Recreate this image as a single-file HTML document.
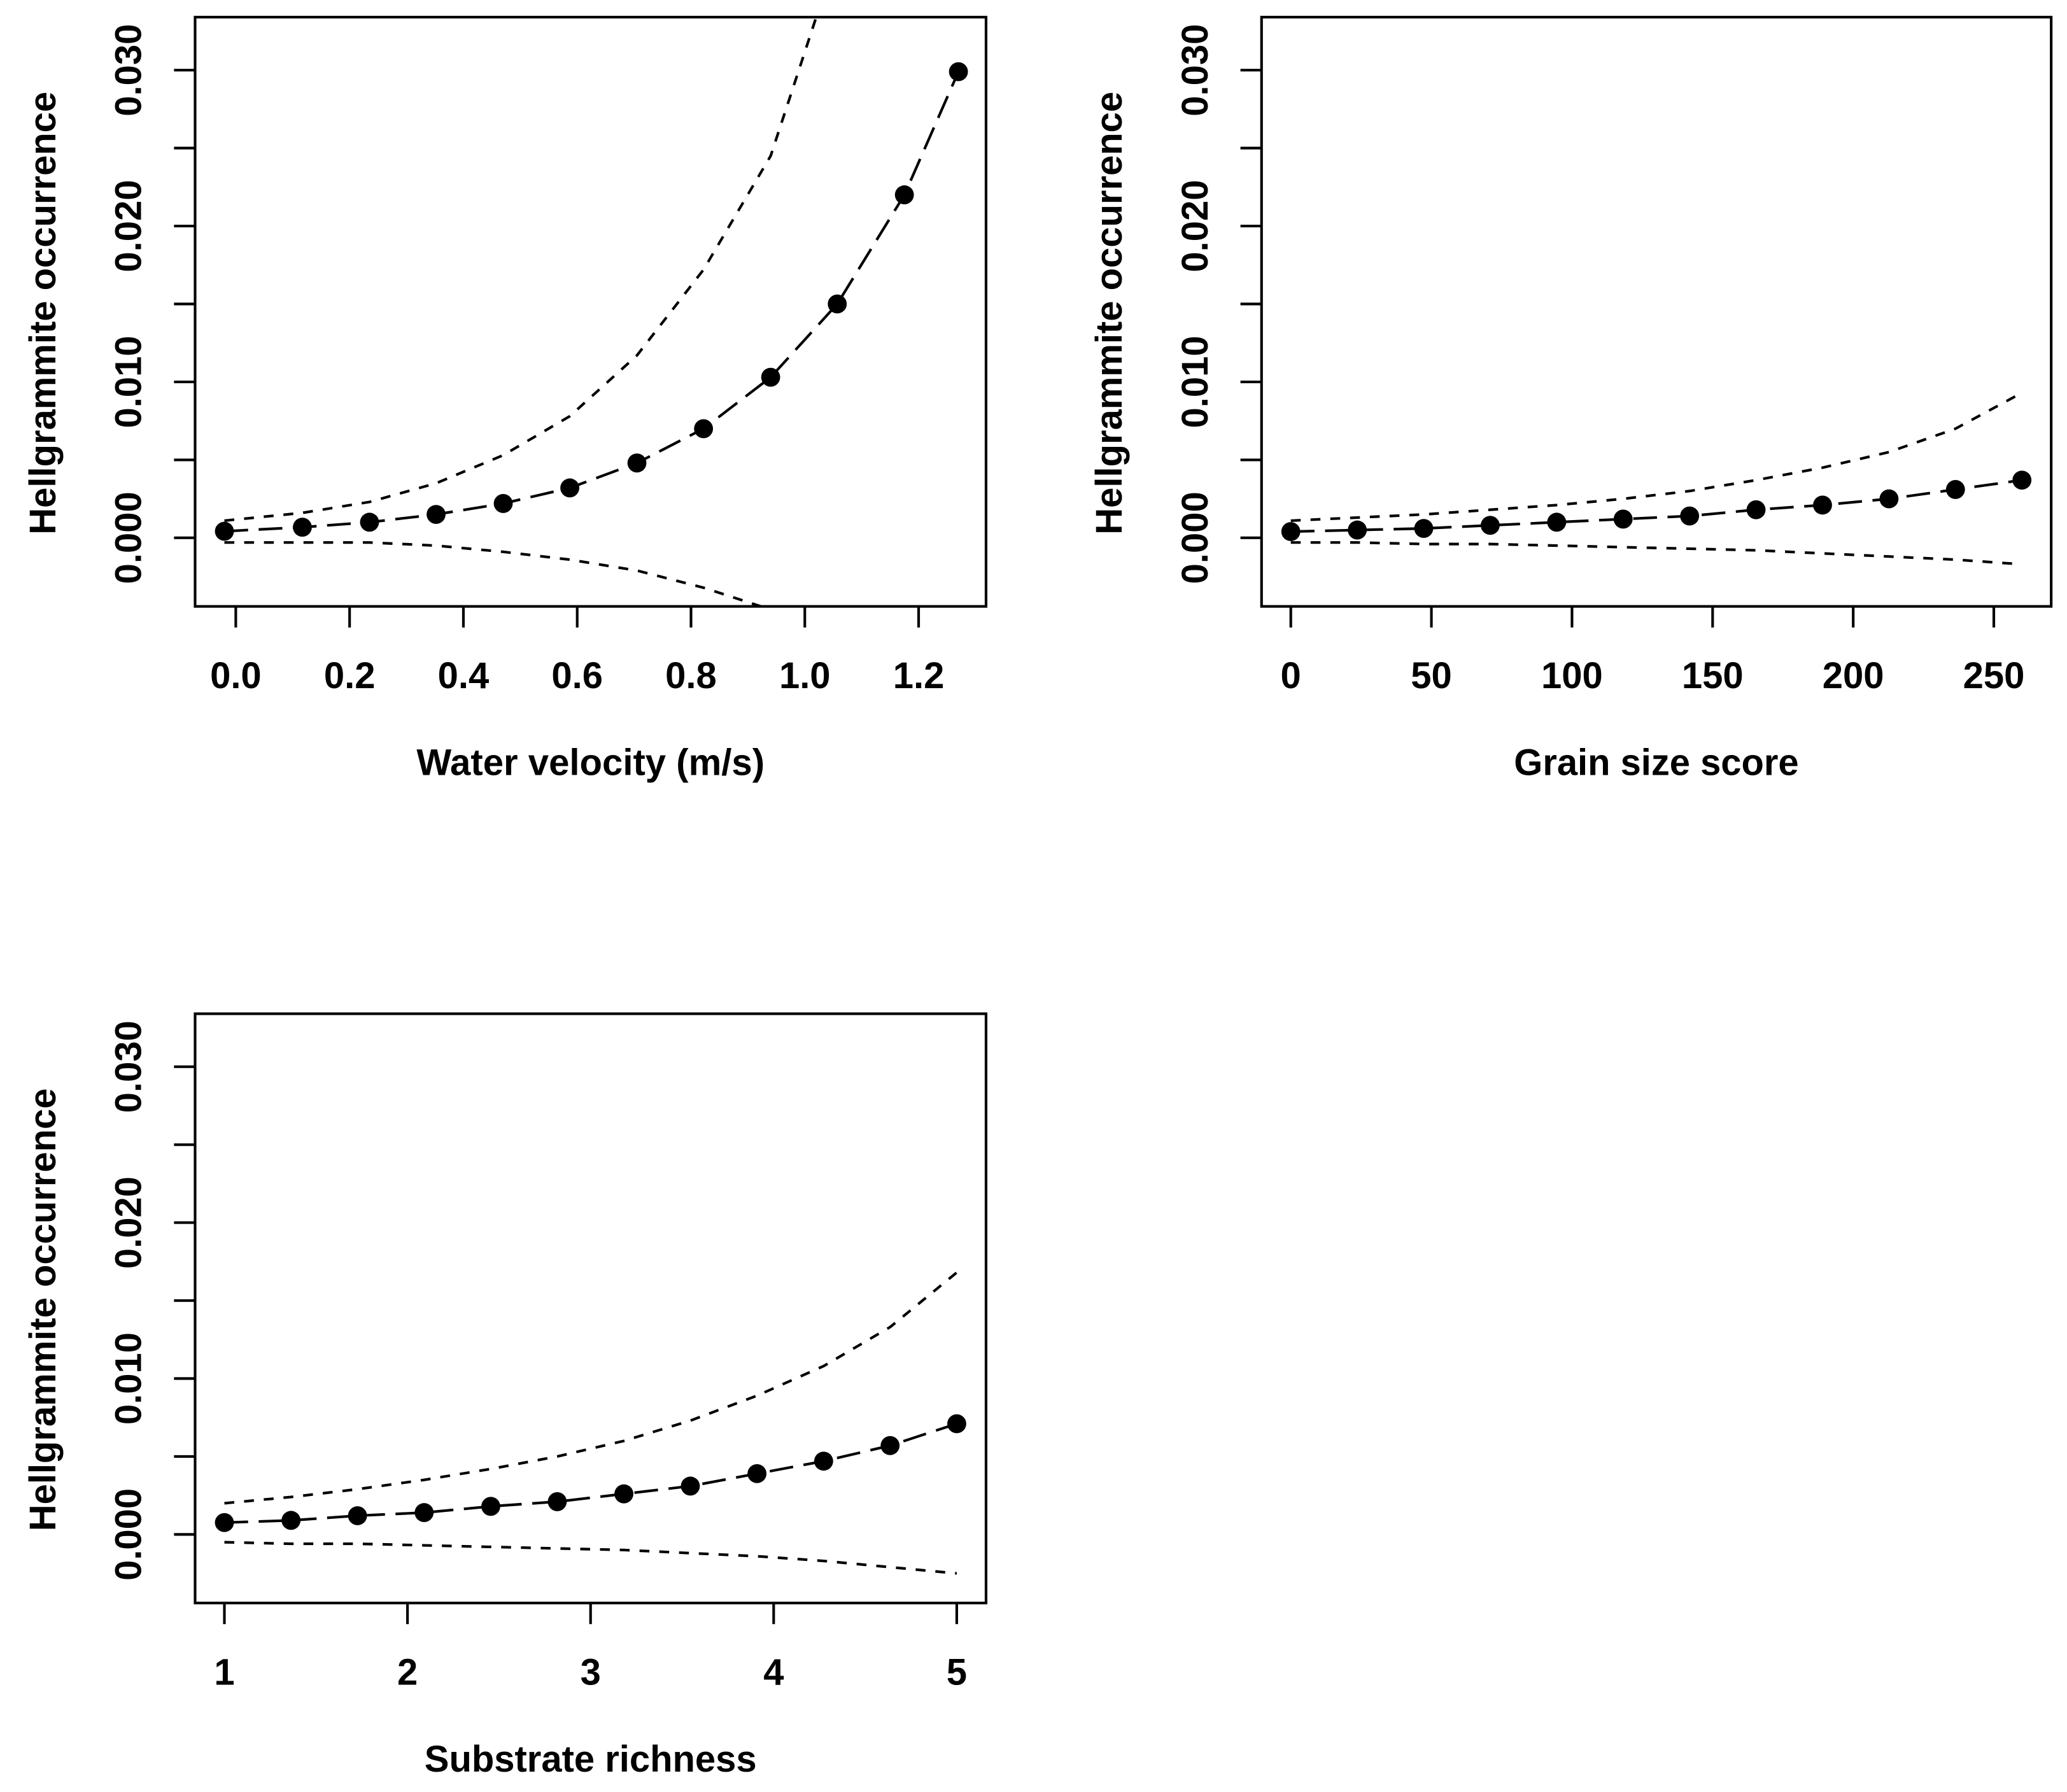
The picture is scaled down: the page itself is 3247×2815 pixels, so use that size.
<!DOCTYPE html>
<html><head><meta charset="utf-8"><style>
html,body{margin:0;padding:0;background:#fff;}
svg{display:block;}
text{font-family:"Liberation Sans",Arial,sans-serif;font-weight:bold;fill:#000;}
</style></head><body>
<svg id="fig" width="3247" height="2815" viewBox="0 0 1568 1359.36" preserveAspectRatio="none" xmlns="http://www.w3.org/2000/svg"></svg>
<script>
// Panel 1: water velocity
const velX = [-0.02,0.117,0.235,0.352,0.47,0.587,0.705,0.822,0.94,1.057,1.175,1.27];
const velFit = [0.00042,0.00068,0.0010,0.0015,0.0022,0.0032,0.0048,0.0070,0.0103,0.0150,0.0220,0.0299];
const velUpper = [0.0011,0.0016,0.0023,0.0035,0.0053,0.0078,0.0117,0.0172,0.0245,0.0375,0.056,0.080];
const velLower = [-0.0003,-0.0003,-0.0003,-0.0005,-0.0009,-0.0014,-0.0021,-0.0032,-0.0046,-0.0070,-0.010,-0.014];
const velTicks = [0,0.2,0.4,0.6,0.8,1.0,1.2];
const velTickLabels = ["0.0","0.2","0.4","0.6","0.8","1.0","1.2"];
// Panel 2: grain size
const grainX = [0,23.64,47.27,70.91,94.55,118.18,141.82,165.45,189.09,212.73,236.36,260];
const grainFit = [0.0004,0.0005,0.0006,0.0008,0.0010,0.0012,0.0014,0.0018,0.0021,0.0025,0.0031,0.0037];
const grainUpper = [0.0011,0.0013,0.0015,0.0018,0.0021,0.0025,0.0030,0.0037,0.0045,0.0055,0.0070,0.0093];
const grainLower = [-0.0003,-0.0003,-0.0004,-0.0004,-0.0005,-0.0006,-0.0007,-0.0008,-0.0010,-0.0012,-0.0014,-0.0017];
const grainTicks = [0,50,100,150,200,250];
const grainTickLabels = ["0","50","100","150","200","250"];
// Panel 3: substrate richness
const subX = [1,1.364,1.727,2.091,2.455,2.818,3.182,3.545,3.909,4.273,4.636,5];
const subFit = [0.00076,0.0009,0.0012,0.0014,0.0018,0.0021,0.0026,0.0031,0.0039,0.0047,0.0057,0.0071];
const subUpper = [0.0020,0.0024,0.0029,0.0035,0.0042,0.0050,0.0060,0.0073,0.0089,0.0108,0.0133,0.0168];
const subLower = [-0.0005,-0.0006,-0.0006,-0.0007,-0.0008,-0.0009,-0.0010,-0.0012,-0.0014,-0.0017,-0.0021,-0.0025];
const subTicks = [1,2,3,4,5];
const subTickLabels = ["1","2","3","4","5"];
// shared y axis
const yTicks = [0,0.005,0.010,0.015,0.020,0.025,0.030];
const yLabelTicks = [0,0.010,0.020,0.030];
const yLabels = ["0.000","0.010","0.020","0.030"];

const NS = "http://www.w3.org/2000/svg";
const svg = document.getElementById('fig');
function mk(tag, attrs, parent){
  const e = document.createElementNS(NS, tag);
  for (const k in attrs) e.setAttribute(k, attrs[k]);
  (parent||svg).appendChild(e);
  return e;
}
let clipId = 0;
function panel(name, box, xmin, xmax, xs, fit, up, lo, xt, xtl, xtitle, xtLen){
  const g = mk('g', {});
  
  
  const ymin = -0.0044, ymax = 0.0334;
  const sx = v => box.x0 + (v - xmin) / (xmax - xmin) * (box.x1 - box.x0);
  const sy = v => box.y1 - (v - ymin) / (ymax - ymin) * (box.y1 - box.y0);
  const cid = 'clip' + (clipId++);
  const cp = mk('clipPath', {id: cid}, g);
  mk('rect', {x: box.x0, y: box.y0, width: box.x1 - box.x0, height: box.y1 - box.y0}, cp);
  const plot = mk('g', {'clip-path': 'url(#' + cid + ')'}, g);
  const pts = arr => xs.map((x, i) => sx(x).toFixed(2) + ',' + sy(arr[i]).toFixed(2)).join(' ');
  const u = mk('polyline', {points: pts(up), fill: 'none', stroke: '#000', 'stroke-width': 2, 'stroke-dasharray': '7.5 7.5'}, plot);
  
  
  const l = mk('polyline', {points: pts(lo), fill: 'none', stroke: '#000', 'stroke-width': 2, 'stroke-dasharray': '7.5 7.5'}, plot);
  
  
  const m = mk('polyline', {points: pts(fit), fill: 'none', stroke: '#000', 'stroke-width': 2, 'stroke-dasharray': '18 8'}, plot);
  
  
  xs.forEach((x, i) => {
    const c = mk('circle', {cx: sx(x), cy: sy(fit[i]), r: 7.2, fill: '#000'}, plot);
    
    
  });
  const b = mk('rect', {x: box.x0, y: box.y0, width: box.x1 - box.x0, height: box.y1 - box.y0, fill: 'none', stroke: '#000', 'stroke-width': 2}, g);
  
  
  xt.forEach((v, i) => {
    const X = sx(v);
    const t = mk('line', {x1: X, x2: X, y1: box.y1, y2: box.y1 + 16, stroke: '#000', 'stroke-width': 2}, g);
    
    
    const tx = mk('text', {x: X, y: box.y1 + 62, 'text-anchor': 'middle', 'font-size': 28}, g);
    tx.textContent = xtl[i];
    
    
  });
  const xtt = mk('text', {x: (box.x0 + box.x1) / 2, y: box.y1 + 128, 'text-anchor': 'middle', 'font-size': 28, textLength: xtLen, lengthAdjust: 'spacingAndGlyphs'}, g);
  xtt.textContent = xtitle;
  
  
  yTicks.forEach(v => {
    const Y = sy(v);
    const t = mk('line', {x1: box.x0 - 16, x2: box.x0, y1: Y, y2: Y, stroke: '#000', 'stroke-width': 2}, g);
    
    
  });
  yLabelTicks.forEach((v, i) => {
    const Y = sy(v), X = box.x0 - 41;
    const tx = mk('text', {x: X, y: Y, 'text-anchor': 'middle', 'font-size': 28, transform: 'rotate(-90 ' + X + ' ' + Y + ')'}, g);
    tx.textContent = yLabels[i];
    
    
  });
  const cy = (box.y0 + box.y1) / 2 + 1, cx = box.x0 - 106;
  const yt = mk('text', {x: cx, y: cy, 'text-anchor': 'middle', 'font-size': 28, textLength: 336, lengthAdjust: 'spacingAndGlyphs', transform: 'rotate(-90 ' + cx + ' ' + cy + ')'}, g);
  yt.textContent = 'Hellgrammite occurrence';
  
  
}
panel('velocity', {x0: 148, x1: 748, y0: 13, y1: 460}, -0.0715, 1.3185, velX, velFit, velUpper, velLower, velTicks, velTickLabels, 'Water velocity (m/s)', 264);
panel('grain-size', {x0: 957, x1: 1556, y0: 13, y1: 460}, -10.4, 270.4, grainX, grainFit, grainUpper, grainLower, grainTicks, grainTickLabels, 'Grain size score', 216);
panel('substrate', {x0: 148, x1: 748, y0: 769, y1: 1216}, 0.84, 5.16, subX, subFit, subUpper, subLower, subTicks, subTickLabels, 'Substrate richness', 252);
</script>
</body></html>
